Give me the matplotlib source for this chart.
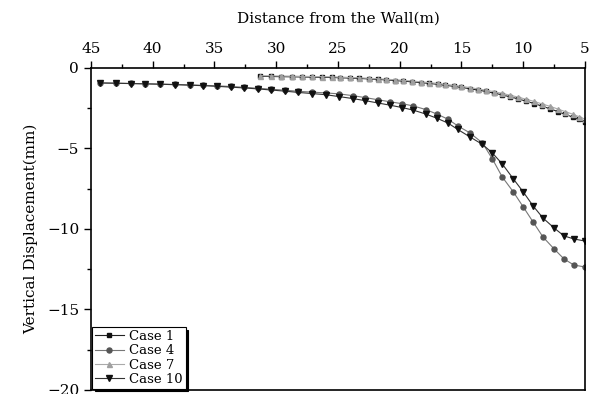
import matplotlib
matplotlib.use("Agg")
import matplotlib.pyplot as plt
from matplotlib.ticker import MultipleLocator

plt.rcParams['font.family'] = ['DejaVu Serif']

# distance from the wall (m) for cases 4 and 10
dist_a = [44.3, 43.0, 41.8, 40.6, 39.4, 38.2, 37.0, 35.9, 34.8, 33.7,
          32.6, 31.5, 30.4, 29.3, 28.2, 27.1, 26.0, 24.9, 23.8, 22.8,
          21.8, 20.8, 19.8, 18.9, 17.9, 17.0, 16.1, 15.3, 14.3, 13.3,
          12.5, 11.7, 10.8, 10.0, 9.2, 8.4, 7.5, 6.7, 5.9, 5.0]
case4 = [-0.93, -0.94, -0.96, -0.98, -1.00, -1.02, -1.05, -1.08, -1.11, -1.15,
         -1.20, -1.26, -1.32, -1.38, -1.45, -1.50, -1.55, -1.61, -1.72, -1.84,
         -1.97, -2.10, -2.22, -2.36, -2.58, -2.86, -3.18, -3.60, -4.04, -4.66,
         -5.65, -6.77, -7.70, -8.63, -9.57, -10.50, -11.24, -11.86, -12.24, -12.36]
case10 = [-0.93, -0.95, -0.97, -0.99, -1.01, -1.04, -1.07, -1.10, -1.14, -1.19,
          -1.24, -1.30, -1.37, -1.44, -1.52, -1.59, -1.66, -1.78, -1.90, -2.03,
          -2.17, -2.31, -2.46, -2.62, -2.86, -3.12, -3.42, -3.82, -4.29, -4.75,
          -5.28, -5.96, -6.89, -7.70, -8.57, -9.32, -9.94, -10.43, -10.62, -10.75]

# distance from the wall (m) for cases 1 and 7
dist_b = [31.3, 30.4, 29.6, 28.7, 27.9, 27.1, 26.3, 25.5, 24.8, 24.0,
          23.3, 22.5, 21.8, 21.1, 20.4, 19.7, 19.0, 18.3, 17.6, 16.9,
          16.3, 15.6, 15.0, 14.3, 13.7, 13.0, 12.4, 11.7, 11.1, 10.4,
          9.8, 9.1, 8.5, 7.8, 7.2, 6.6, 6.0, 5.5, 5.0]
case1 = [-0.52, -0.53, -0.54, -0.55, -0.56, -0.57, -0.58, -0.59, -0.61, -0.63,
         -0.65, -0.68, -0.71, -0.74, -0.78, -0.82, -0.86, -0.91, -0.96, -1.02,
         -1.08, -1.14, -1.21, -1.29, -1.37, -1.46, -1.56, -1.67, -1.79, -1.92,
         -2.06, -2.21, -2.37, -2.54, -2.71, -2.88, -3.05, -3.20, -3.38]
case7 = [-0.48, -0.49, -0.50, -0.51, -0.52, -0.53, -0.54, -0.55, -0.57, -0.59,
         -0.61, -0.64, -0.67, -0.70, -0.73, -0.77, -0.81, -0.86, -0.91, -0.96,
         -1.02, -1.08, -1.14, -1.22, -1.30, -1.38, -1.47, -1.58, -1.69, -1.81,
         -1.94, -2.08, -2.23, -2.39, -2.55, -2.71, -2.87, -3.02, -3.18]

fig = plt.figure(figsize=(5.89, 3.94), dpi=100)
ax = fig.add_axes([0.1545, 0.0102, 0.8387, 0.8173])

ax.plot(dist_b, case1, color='#222222', lw=0.8, marker='s', ms=2.8,
        mfc='#111111', mec='#111111', label='Case 1')
ax.plot(dist_a, case4, color='#777777', lw=0.8, marker='o', ms=3.6,
        mfc='#555555', mec='#555555', label='Case 4')
ax.plot(dist_b, case7, color='#aaaaaa', lw=0.8, marker='^', ms=3.6,
        mfc='#a0a0a0', mec='#a0a0a0', label='Case 7')
ax.plot(dist_a, case10, color='#333333', lw=0.8, marker='v', ms=3.8,
        mfc='#111111', mec='#111111', label='Case 10')

ax.set_xlim(45, 5)
ax.set_ylim(-20, 0)
ax.xaxis.tick_top()
ax.xaxis.set_label_position('top')
ax.xaxis.set_major_locator(MultipleLocator(5))
ax.xaxis.set_minor_locator(MultipleLocator(2.5))
ax.yaxis.set_major_locator(MultipleLocator(5))
ax.yaxis.set_minor_locator(MultipleLocator(2.5))
ax.tick_params(which='major', direction='out', length=5, width=1, labelsize=11)
ax.tick_params(which='minor', direction='out', length=3, width=1)
for s in ax.spines.values():
    s.set_linewidth(1.2)

ax.set_xlabel('Distance from the Wall(m)', fontsize=11, labelpad=14)
ax.set_ylabel('Vertical Displacement(mm)', fontsize=11, labelpad=6)

leg = ax.legend(loc='lower left', fontsize=9.5, frameon=True, fancybox=False,
                shadow={'color': 'black', 'alpha': 1}, borderaxespad=0.1,
                handlelength=2.2, labelspacing=0.1, borderpad=0.2,
                handletextpad=0.4)
leg.get_frame().set_edgecolor('black')
leg.get_frame().set_linewidth(0.8)

fig.savefig('out.png', dpi=100)
